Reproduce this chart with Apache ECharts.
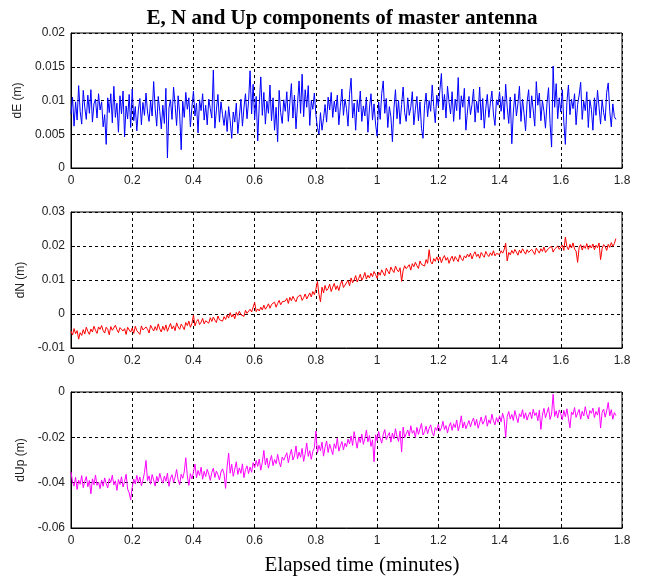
<!DOCTYPE html>
<html>
<head>
<meta charset="utf-8">
<script src="https://cdn.jsdelivr.net/npm/echarts@6/dist/echarts.min.js"></script>
<style>
html,body{margin:0;padding:0;background:#fff;}
#chart{width:645px;height:579px;}
</style>
</head>
<body>
<div id="chart"></div>
<script>
// Sample interval (minutes) of the recorded series
const sampleStep = 0.005;

// dE component (millimetres), one value per sample
const dE_mm = [
8.0,10.5,6.2,9.8,7.1,12.2,8.4,6.5,11.5,9.0,7.2,10.8,8.1,11.6,6.8,9.5,10.2,7.4,11.0,8.6,
9.8,6.1,7.9,3.5,10.4,8.2,11.0,6.7,12.1,7.5,9.6,5.3,10.7,8.0,11.4,4.6,9.2,7.3,10.9,6.0,
11.7,7.0,9.1,5.5,8.6,10.3,6.4,9.7,7.8,11.1,8.3,6.9,10.0,7.7,12.8,8.8,6.2,10.6,8.4,5.8,
9.3,6.6,11.8,1.5,8.9,10.1,7.2,12.0,9.4,6.3,10.7,8.0,2.7,9.9,7.5,11.2,8.7,10.4,6.1,9.0,
11.4,7.7,9.6,5.2,10.1,8.5,11.0,7.1,9.3,6.4,10.2,8.8,7.4,14.5,5.9,8.6,10.9,6.8,9.8,7.9,
6.3,8.5,5.4,9.1,7.0,4.4,8.3,6.8,9.6,5.1,7.6,10.2,6.2,8.9,11.0,7.3,9.8,14.4,8.0,12.4,
7.2,10.6,4.0,9.4,13.5,7.8,11.2,6.5,9.9,8.1,12.3,7.0,10.4,5.6,9.0,3.9,11.5,8.2,6.6,10.1,
8.4,11.3,6.9,9.7,12.5,7.4,10.8,5.8,9.5,12.9,8.1,13.9,7.6,11.6,9.0,12.2,6.3,10.0,8.7,11.1,
7.9,6.0,5.0,8.2,5.6,7.3,9.4,6.8,10.5,8.6,11.2,7.5,9.9,8.3,10.8,6.4,9.1,11.7,7.8,10.2,
8.8,6.2,10.9,13.3,7.4,9.6,5.6,10.1,8.3,11.4,6.9,9.2,7.7,10.5,5.3,8.9,11.0,7.1,9.5,6.5,
4.7,9.8,7.2,11.0,12.9,8.1,10.3,6.0,9.1,7.6,3.9,8.8,11.6,7.3,10.0,6.5,9.4,12.0,8.2,6.9,
10.4,7.8,9.0,11.3,6.4,8.7,10.6,7.0,9.8,5.9,4.4,9.3,11.1,7.6,10.0,8.4,12.3,9.1,6.7,10.8,
9.2,11.5,14.0,8.6,10.9,7.4,12.1,9.7,8.0,11.3,6.9,10.2,8.5,13.4,7.2,10.7,9.0,11.8,5.6,8.3,
10.6,7.9,9.4,11.7,6.8,9.9,8.2,12.0,7.1,10.3,5.9,8.8,10.9,7.5,9.6,11.4,8.0,6.3,10.1,9.3,
11.3,8.4,10.6,7.2,12.4,9.0,6.6,10.5,3.6,8.3,11.0,7.7,9.5,12.1,6.9,10.2,8.1,5.5,9.8,11.6,
7.4,10.7,8.6,6.2,12.8,9.3,11.1,7.0,10.0,8.4,5.9,9.6,11.9,6.6,3.1,15.1,9.0,12.5,7.3,10.4,
8.3,11.6,6.8,3.5,9.7,12.3,7.9,10.2,8.8,11.0,6.4,9.4,10.8,12.7,7.2,9.9,8.5,11.3,6.0,10.1,
8.7,5.6,10.4,7.8,11.5,9.0,6.5,10.1,8.2,7.0,11.2,12.6,8.4,6.1,9.5,7.6,7.2
];

// dN component (millimetres)
const dN_mm = [
-5.0,-6.2,-4.3,-5.8,-4.9,-7.4,-5.5,-6.3,-4.6,-5.9,-3.9,-5.1,-6.0,-4.4,-5.3,-3.6,-4.8,-5.7,-3.8,-4.5,
-3.4,-4.9,-5.6,-3.9,-4.5,-6.1,-3.7,-4.8,-5.2,-3.3,-4.6,-5.5,-4.0,-3.6,-5.0,-4.3,-6.0,-3.9,-4.7,-5.3,
-4.1,-5.7,-3.6,-4.9,-4.4,-6.0,-3.5,-4.7,-5.2,-3.8,-4.5,-5.6,-3.3,-4.2,-5.0,-3.7,-4.8,-2.9,-4.4,-5.3,
-3.6,-4.8,-3.2,-5.1,-3.9,-2.8,-4.4,-3.5,-4.9,-2.6,-3.8,-4.5,-3.0,-3.7,-4.6,-2.5,-3.4,-2.1,-3.9,-2.8,
-0.3,-3.5,-2.2,-1.6,-3.1,-2.4,-1.3,-2.9,-2.0,-1.5,-2.7,-1.1,-2.2,-0.9,-1.8,-2.5,-0.6,-1.7,-1.2,-2.1,
-0.8,-1.6,-0.3,-1.2,0.4,-0.9,-0.1,-1.4,0.5,-0.4,0.8,-0.2,0.3,-0.7,1.1,0.2,-0.3,1.4,0.6,0.1,
3.4,0.7,1.5,0.9,2.0,1.2,2.6,1.4,2.1,3.0,1.7,2.8,2.3,3.5,2.0,3.1,4.0,2.7,3.6,3.2,
3.8,4.6,3.1,4.9,3.9,5.2,4.3,3.6,5.0,4.5,5.6,4.0,4.8,5.9,4.4,5.3,6.2,5.0,6.6,5.7,
7.3,9.6,5.8,3.6,7.9,6.2,8.4,6.9,7.5,8.8,6.6,7.9,9.0,7.2,8.3,6.9,8.7,9.8,7.8,8.5,
8.6,9.9,8.3,10.6,9.2,10.0,11.3,9.4,10.5,11.7,9.9,10.8,12.2,10.3,11.4,10.6,12.0,11.0,12.5,11.6,
10.5,12.3,11.4,13.0,12.1,11.2,13.5,12.6,11.8,13.8,12.9,12.2,14.1,13.0,12.4,13.6,9.6,12.8,14.2,13.3,
13.6,14.5,12.9,14.8,13.9,15.2,14.2,13.4,15.6,14.6,15.0,14.1,16.0,14.9,18.9,15.4,14.7,16.3,15.5,16.8,
15.6,16.8,15.1,16.4,17.2,15.8,16.6,14.9,16.2,17.0,15.5,16.9,16.1,15.4,17.4,16.3,15.7,17.1,16.5,17.6,
16.8,17.9,16.2,17.5,18.3,16.9,17.6,16.4,18.1,17.3,16.7,18.4,17.5,16.9,18.0,17.2,18.6,17.1,17.8,18.2,
17.5,18.6,17.9,18.9,20.8,15.6,18.1,17.4,18.7,17.8,19.0,18.2,17.3,18.8,17.9,19.2,18.4,17.6,18.9,18.1,
17.8,19.0,18.3,17.5,19.4,18.6,17.9,19.2,18.4,19.7,18.1,17.7,19.3,18.8,19.9,18.2,19.1,18.6,20.0,19.0,
19.5,20.3,18.7,22.6,19.8,18.9,20.5,19.4,20.9,19.1,18.5,15.2,19.6,20.4,18.8,20.1,19.3,20.7,19.0,20.2,
19.4,20.6,18.9,20.2,19.5,20.9,16.0,19.2,20.4,19.8,18.7,20.5,19.6,21.0,19.9,20.7,22.2
];

// dUp component (millimetres)
const dUp_mm = [
-35.2,-39.8,-41.5,-37.6,-43.0,-38.9,-40.7,-36.9,-42.2,-39.4,-37.3,-41.8,-39.0,-44.9,-38.3,-40.9,-36.6,-41.2,-39.7,-42.6,
-38.8,-41.6,-37.9,-40.4,-42.3,-38.2,-39.9,-36.7,-41.0,-39.2,-43.4,-38.6,-40.8,-37.4,-41.9,-39.5,-36.3,-42.8,-44.5,-47.6,
-42.1,-38.4,-40.6,-36.8,-39.9,-37.5,-41.3,-38.9,-35.6,-30.2,-39.1,-37.0,-40.7,-36.4,-38.8,-41.5,-37.2,-39.6,-35.9,-38.5,
-40.2,-37.1,-39.4,-35.8,-41.6,-38.0,-36.5,-39.9,-37.6,-34.2,-38.7,-40.9,-36.3,-38.1,-35.2,-29.0,-37.0,-41.2,-36.0,-38.4,
-35.4,-31.8,-37.9,-34.6,-36.8,-33.2,-38.5,-35.0,-37.3,-34.1,-36.2,-39.0,-35.5,-33.6,-37.7,-34.9,-36.5,-38.8,-35.3,-33.9,
-36.1,-42.5,-33.0,-27.0,-35.8,-31.9,-37.2,-34.0,-30.8,-36.4,-33.5,-35.9,-31.7,-37.8,-34.3,-32.6,-36.0,-33.1,-35.4,-31.2,
-33.4,-30.2,-32.8,-29.6,-34.5,-31.0,-25.8,-32.2,-29.1,-33.6,-30.4,-28.0,-32.5,-29.8,-31.6,-27.5,-30.9,-33.0,-28.7,-30.1,
-29.4,-26.8,-31.2,-27.9,-25.3,-30.0,-28.2,-23.8,-29.5,-26.5,-28.8,-24.9,-30.6,-27.1,-22.5,-28.4,-25.9,-29.7,-26.2,-24.6,
-17.2,-27.0,-23.5,-25.9,-22.1,-28.3,-24.4,-21.6,-26.7,-23.0,-25.2,-27.6,-22.8,-24.9,-20.4,-26.1,-23.7,-21.9,-25.5,-22.6,
-24.2,-20.8,-22.9,-19.4,-23.6,-17.5,-21.4,-24.8,-19.9,-22.3,-18.6,-23.1,-20.5,-16.8,-22.0,-19.2,-24.0,-21.1,-30.8,-18.9,
-21.5,-17.4,-20.3,-22.6,-18.8,-16.6,-21.0,-19.3,-17.9,-22.1,-18.1,-20.7,-16.2,-19.6,-21.8,-17.2,-26.5,-15.5,-20.2,-18.4,
-16.8,-19.5,-14.9,-18.2,-17.0,-20.1,-15.6,-18.7,-16.3,-13.9,-19.0,-17.5,-15.1,-18.4,-16.0,-14.5,-17.8,-19.4,-15.7,-16.9,
-14.2,-17.3,-15.8,-12.9,-16.6,-14.8,-18.0,-15.2,-13.5,-16.9,-14.0,-15.7,-12.4,-17.1,-14.6,-10.5,-15.9,-13.2,-16.2,-14.4,
-12.6,-15.4,-13.0,-11.5,-14.8,-12.1,-16.0,-13.6,-11.0,-14.2,-12.8,-10.4,-15.1,-12.3,-13.9,-9.8,-12.7,-14.5,-11.3,-13.4,
-10.5,-13.2,-9.4,-12.1,-20.0,-10.8,-8.6,-11.9,-9.9,-12.6,-8.2,-11.0,-13.5,-9.6,-10.9,-7.8,-11.7,-9.2,-12.4,-10.1,
-8.9,-11.8,-7.6,-10.4,-9.1,-12.7,-8.0,-16.5,-10.2,-7.2,-11.4,-9.0,-6.8,-12.1,-9.7,-1.0,-10.8,-8.3,-11.5,-7.9,
-9.6,-12.3,-8.1,-10.9,-7.4,-11.6,-15.8,-8.8,-10.0,-6.9,-11.2,-9.3,-7.7,-12.0,-8.5,-10.6,-6.5,-9.8,-11.9,-8.2,
-9.4,-7.1,-11.3,-8.6,-10.2,-6.8,-15.9,-9.0,-7.5,-11.1,-8.3,-4.6,-10.5,-7.8,-12.0,-9.1,-10.4
];

const titleText = 'E, N and Up components of master antenna';
const xAxisTitle = 'Elapsed time (minutes)';
const yNames = ['dE (m)', 'dN (m)', 'dUp (m)'];
const yMins = [0, -0.01, -0.06];
const yMaxs = [0.02, 0.03, 0];
const yIntervals = [0.005, 0.01, 0.02];
const xMin = 0, xMax = 1.8, xInterval = 0.2;
const colors = ['#0000ff', '#ff0000', '#ff00ff'];

function toPairs(arr) {
  return arr.map((v, i) => [i * sampleStep, v / 1000]);
}
const seriesData = [toPairs(dE_mm), toPairs(dN_mm), toPairs(dUp_mm)];

const gridTops = [33, 212, 392];
const gridH = [135, 136, 136];

const fmt = v => String(+(+v).toFixed(4));
const labelStyle = { fontFamily: 'Liberation Sans, Arial, sans-serif', fontSize: 12, color: '#222' };

const option = {
  animation: false,
  backgroundColor: '#fff',
  title: {
    text: titleText,
    left: 337,
    top: 3,
    textAlign: 'center',
    textStyle: { fontFamily: 'Liberation Serif, Times New Roman, serif', fontWeight: 'bold', fontSize: 21, color: '#000' }
  },
  graphic: [{
    type: 'text',
    x: 362,
    y: 565,
    style: {
      text: xAxisTitle,
      font: '21px "Liberation Serif", "Times New Roman", serif',
      fill: '#000',
      textAlign: 'center',
      textVerticalAlign: 'middle'
    }
  }],
  grid: gridTops.map((t, i) => ({
    left: 71, right: 23, top: t, height: gridH[i],
    show: true, borderColor: '#000', borderWidth: 1, backgroundColor: 'transparent'
  })),
  xAxis: [0, 1, 2].map(i => ({
    type: 'value', gridIndex: i, min: xMin, max: xMax, interval: xInterval,
    axisLine: { show: true, onZero: false, lineStyle: { color: '#000', width: 1 } },
    axisTick: { show: true, inside: true, length: 4, lineStyle: { color: '#000' } },
    axisLabel: Object.assign({ margin: 7, formatter: fmt, showMaxLabel: true, showMinLabel: true }, labelStyle),
    splitLine: { show: true, lineStyle: { color: '#000', type: [3, 3], width: 1 } }
  })),
  yAxis: [0, 1, 2].map(i => ({
    type: 'value', gridIndex: i, min: yMins[i], max: yMaxs[i], interval: yIntervals[i],
    name: yNames[i], nameLocation: 'middle', nameGap: 37,
    nameTextStyle: { fontFamily: 'Liberation Sans, Arial, sans-serif', fontSize: 12, color: '#222' },
    axisLine: { show: true, onZero: false, lineStyle: { color: '#000', width: 1 } },
    axisTick: { show: true, inside: true, length: 4, lineStyle: { color: '#000' } },
    axisLabel: Object.assign({ margin: 6, formatter: fmt }, labelStyle),
    splitLine: { show: true, lineStyle: { color: '#000', type: [3, 3], width: 1 } }
  })),
  series: [0, 1, 2].map(i => ({
    type: 'line', xAxisIndex: i, yAxisIndex: i,
    data: seriesData[i], showSymbol: false, symbol: 'none',
    sampling: null,
    lineStyle: { color: colors[i], width: 1 },
    itemStyle: { color: colors[i] }
  }))
};

const chart = echarts.init(document.getElementById('chart'), null, { renderer: 'canvas' });
chart.setOption(option);
</script>
</body>
</html>
